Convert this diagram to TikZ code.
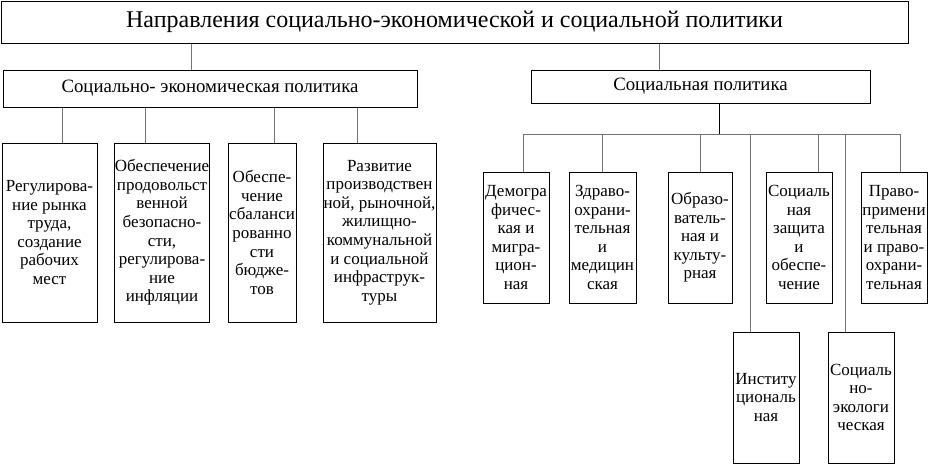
\documentclass[tikz,border=0pt]{standalone}
\usepackage{fontspec}
\setmainfont{Liberation Serif}
\usetikzlibrary{positioning}
\tikzstyle{box} = [
rectangle,
draw=black,
line width=1pt,
inner sep=0pt,
align=center,
font=\fontsize{17}{18.6}\selectfont
]
\tikzstyle{head} = [
box,
font=\fontsize{18.8}{20}\selectfont
]
\tikzstyle{line} = [
draw=black!55,
line width=1pt
]
\begin{document}
\begin{tikzpicture}[x=1pt,y=-1pt]
\useasboundingbox (0,0) rectangle (930,467);
%Nodes
\node[box,font=\fontsize{24}{26}\selectfont,minimum width=907pt,minimum height=42pt] (title) at (454.5,22) {Направления социально-экономической и социальной политики};
\node[head,minimum width=414pt,minimum height=37pt] (sep) at (210,88.5) {Социально- экономическая политика};
\node[head,minimum width=339pt,minimum height=33pt] (sp) at (700.5,86.5) {Социальная политика};
\node[box,minimum width=95pt,minimum height=179pt] (l1) at (49.5,232.5) {Регулирова-\\ние рынка\\труда,\\создание\\рабочих\\мест};
\node[box,minimum width=94pt,minimum height=179pt] (l2) at (162,232.5) {Обеспечение\\продовольст\\венной\\безопасно-\\сти,\\регулирова-\\ние\\инфляции};
\node[box,minimum width=68pt,minimum height=179pt] (l3) at (262,232.5) {Обеспе-\\чение\\сбаланси\\рованно\\сти\\бюдже-\\тов};
\node[box,minimum width=113pt,minimum height=179pt] (l4) at (379.5,232.5) {Развитие\\производствен\\ной, рыночной,\\жилищно-\\коммунальной\\и социальной\\инфраструк-\\туры};
\node[box,minimum width=66pt,minimum height=131pt] (r1) at (516,237.5) {Демогра\\фичес-\\кая и\\мигра-\\цион-\\ная};
\node[box,minimum width=67pt,minimum height=131pt] (r2) at (602.5,237.5) {Здраво-\\охрани-\\тельная\\и\\медицин\\ская};
\node[box,minimum width=64pt,minimum height=131pt] (r3) at (700,237.5) {Образо-\\ватель-\\ная и\\культу-\\рная};
\node[box,minimum width=66pt,minimum height=131pt] (r4) at (799,237.5) {Социаль\\ная\\защита\\и\\обеспе-\\чение};
\node[box,minimum width=66pt,minimum height=131pt] (r5) at (894,237.5) {Право-\\примени\\тельная\\и право-\\охрани-\\тельная};
\node[box,minimum width=66pt,minimum height=131pt] (r6) at (766,397.5) {Институ\\циональ\\ная};
\node[box,minimum width=66pt,minimum height=131pt] (r7) at (861,397.5) {Социаль\\но-\\экологи\\ческая};
%Drop points
\coordinate (ta) at (191,0);
\coordinate (tb) at (659,0);
\coordinate (la) at (62,0);
\coordinate (lb) at (145,0);
\coordinate (lc) at (274,0);
\coordinate (ld) at (357,0);
\coordinate (rs) at (719,0);
\coordinate (bus) at (0,134);
\coordinate (ra) at (523,0);
\coordinate (rb) at (602,0);
\coordinate (rc) at (700,0);
\coordinate (rd) at (750,0);
\coordinate (re) at (818,0);
\coordinate (rf) at (845,0);
\coordinate (rg) at (900,0);
%Lines
\draw[line] (title.south -| ta) -- (sep.north -| ta);
\draw[line] (title.south -| tb) -- (sp.north -| tb);
\draw[line] (sep.south -| la) -- (l1.north -| la);
\draw[line] (sep.south -| lb) -- (l2.north -| lb);
\draw[line] (sep.south -| lc) -- (l3.north -| lc);
\draw[line] (sep.south -| ld) -- (l4.north -| ld);
\draw[line,draw=black] (sp.south -| rs) -- (bus -| rs);
\draw[line] (bus -| ra) -- (bus -| rg);
\draw[line] (bus -| ra) -- (r1.north -| ra);
\draw[line] (bus -| rb) -- (r2.north -| rb);
\draw[line] (bus -| rc) -- (r3.north -| rc);
\draw[line] (bus -| rd) -- (r6.north -| rd);
\draw[line] (bus -| re) -- (r4.north -| re);
\draw[line] (bus -| rf) -- (r7.north -| rf);
\draw[line] (bus -| rg) -- (r5.north -| rg);
\end{tikzpicture}
\end{document}
